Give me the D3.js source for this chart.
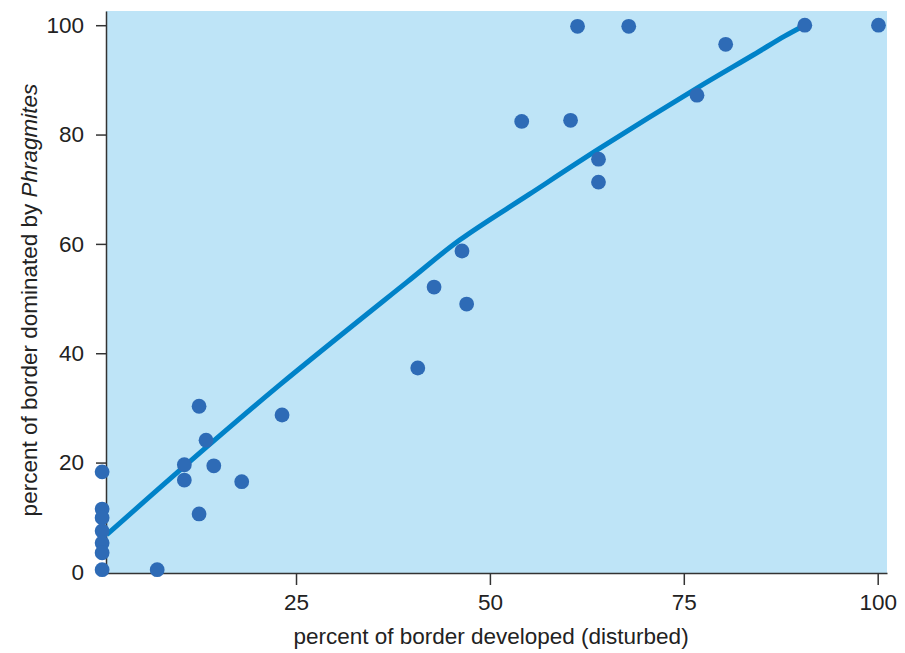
<!DOCTYPE html>
<html>
<head>
<meta charset="utf-8">
<script src="https://cdn.jsdelivr.net/npm/d3@7"></script>
<style>
  html, body { margin: 0; padding: 0; background: #ffffff; }
  #canvasplot { width: 905px; height: 653px; }
</style>
</head>
<body>
<div id="canvasplot"></div>
<script>
// observed sites: percent developed vs percent Phragmites
var devX = [0, 0, 0, 0, 0, 0, 0, 7.1, 12.5, 13.4, 10.6, 10.6, 14.4, 18.0, 12.5, 23.2,
            46.4, 42.8, 47.0, 40.7, 61.3, 67.9, 80.4, 76.7, 54.1, 60.4, 64.0, 64.0, 90.6, 100.1];
var domY = [18.3, 11.5, 9.9, 7.5, 5.3, 3.5, 0.4, 0.4, 30.3, 24.1, 19.6, 16.8, 19.4, 16.5, 10.6, 28.7,
            58.7, 52.1, 49.0, 37.3, 99.8, 99.8, 96.5, 87.2, 82.4, 82.6, 75.5, 71.3, 100, 100];

// smoothed fit line
var fitX = [0.6, 11.0, 22.9, 39.3, 46.1, 55.0, 64.2, 76.7, 84.0, 88.0, 90.6];
var fitY = [6.8, 19.8, 34.2, 53.0, 60.7, 69.0, 77.5, 88.5, 94.6, 98.0, 100];

var xTicks = [25, 50, 75, 100];
var yTicks = [0, 20, 40, 60, 80, 100];

var box = {left: 106, right: 887, top: 11, bottom: 573},
    xdomain = {min: 0.5, max: 101.2},
    ydomain = {min: -0.2, max: 102.6},
    fontFam = "'Liberation Sans', Arial, Helvetica, sans-serif",
    fontSize = '22.5px';

function drawChart(){

    var svg = d3.select('#canvasplot').append('svg')
        .attr('width', 905)
        .attr('height', 653);

    var Xscale = d3.scaleLinear()
        .domain([xdomain.min, xdomain.max])
        .range([box.left, box.right]);

    var Yscale = d3.scaleLinear()
        .domain([ydomain.min, ydomain.max])
        .range([box.bottom, box.top]);

    // plot background
    svg.append('rect')
        .attr('x', box.left)
        .attr('y', box.top)
        .attr('width', box.right - box.left)
        .attr('height', box.bottom - box.top)
        .attr('fill', '#bee4f7');

    //X axis
    var axisX = svg.append('g')
        .attr('transform', 'translate(0,' + box.bottom + ')')
        .call(d3.axisBottom(Xscale).tickValues(xTicks).tickSize(12).tickSizeOuter(0).tickPadding(9));

    //Y axis
    var axisY = svg.append('g')
        .attr('transform', 'translate(' + box.left + ',0)')
        .call(d3.axisLeft(Yscale).tickValues(yTicks).tickSize(10).tickSizeOuter(0).tickPadding(12));

    [axisX, axisY].forEach(function(ax){
        ax.selectAll('path, line')
            .attr('stroke', '#333333')
            .attr('stroke-width', 1.5);
        ax.selectAll('text')
            .attr('fill', '#222222')
            .style('font-family', fontFam)
            .style('font-size', fontSize);
    });

    //X axis label
    svg.append('text')
        .attr('x', 491)
        .attr('y', 644)
        .attr('fill', '#222222')
        .style('text-anchor', 'middle')
        .style('font-family', fontFam)
        .style('font-size', fontSize)
        .text('percent of border developed (disturbed)');

    //Y axis label
    var ylab = svg.append('text')
        .attr('transform', 'translate(37,' + 300 + ') rotate(-90)')
        .attr('fill', '#222222')
        .style('text-anchor', 'middle')
        .style('font-family', fontFam)
        .style('font-size', fontSize);
    ylab.append('tspan').text('percent of border dominated by ');
    ylab.append('tspan').style('font-style', 'italic').text('Phragmites');

    // fit line
    var fitData = fitX.map(function(d, i){ return {x: d, y: fitY[i]}; });
    var fitLine = d3.line()
        .x(function(d){ return Xscale(d.x); })
        .y(function(d){ return Yscale(d.y); })
        .curve(d3.curveCatmullRom.alpha(0.5));

    svg.append('path')
        .datum(fitData)
        .attr('d', fitLine)
        .attr('fill', 'none')
        .attr('stroke', '#0082c8')
        .attr('stroke-width', 5)
        .attr('stroke-linecap', 'butt');

    // points
    var pts = devX.map(function(d, i){ return {x: d, y: domY[i]}; });
    svg.append('g').selectAll('circle')
        .data(pts)
        .enter().append('circle')
        .attr('cx', function(d){ return Xscale(d.x); })
        .attr('cy', function(d){ return Yscale(d.y); })
        .attr('r', 7.4)
        .attr('fill', '#2e6bb6');
}

window.onload = function(){
    drawChart();
};
</script>
</body>
</html>
